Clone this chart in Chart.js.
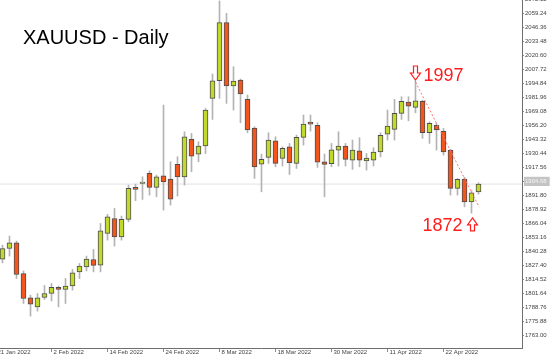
<!DOCTYPE html>
<html>
<head>
<meta charset="utf-8">
<script src="https://cdn.jsdelivr.net/npm/chart.js@4/dist/chart.umd.min.js"></script>
<style>
  html, body { margin: 0; padding: 0; background: #fff; }
  canvas { display: block; }
</style>
</head>
<body>
<canvas id="chart" width="554" height="359"></canvas>
<script>
// Daily candles, 24 Jan 2022 .. 29 Apr 2022
const open  = [1833.2,1843.0,1848.2,1820.0,1797.6,1789.3,1797.9,1801.6,1807.2,1805.3,
               1808.6,1821.5,1826.1,1832.9,1827.7,1856.8,1870.6,1853.7,1869.7,1899.2,
               1902.8,1912.0,1899.2,1909.8,1906.8,1920.3,1908.9,1943.3,1929.8,1937.2,
               1981.0,1997.2,2050.6,1992.4,1997.9,1980.1,1953.7,1920.6,1926.8,1942.0,
               1925.8,1936.5,1921.2,1945.2,1959.2,1956.2,1922.7,1920.9,1933.5,1937.2,
               1924.3,1932.8,1923.6,1924.3,1931.9,1948.2,1952.5,1967.2,1977.6,1972.8,
               1978.3,1949.4,1956.2,1950.7,1933.5,1898.2,1906.8,1885.9,1895.1];
const high  = [1846.1,1854.4,1849.8,1822.4,1800.1,1801.6,1809.0,1810.8,1808.4,1815.4,
               1823.7,1829.2,1836.0,1842.1,1866.0,1874.3,1879.8,1872.8,1901.3,1902.2,
               1908.9,1914.4,1910.5,1974.9,1922.7,1927.3,1950.3,1948.8,1941.1,1971.7,
               2003.4,2070.6,2059.2,2010.1,1998.8,1984.1,1954.9,1929.8,1949.4,1945.7,
               1936.5,1939.6,1947.3,1965.7,1965.7,1958.6,1929.8,1939.6,1950.3,1939.6,
               1942.7,1944.8,1930.4,1935.6,1949.4,1970.3,1980.1,1982.5,1982.5,1997.0,
               1979.5,1959.5,1958.0,1953.4,1934.1,1907.4,1908.4,1896.0,1903.4];
const low   = [1829.8,1836.0,1815.4,1792.4,1780.8,1785.4,1796.1,1794.8,1789.3,1792.4,
               1804.7,1815.4,1822.4,1821.5,1821.5,1850.7,1845.2,1850.7,1867.5,1887.0,
               1888.1,1892.1,1890.5,1878.3,1882.9,1891.2,1901.3,1913.5,1922.7,1930.3,
               1961.7,1981.0,1976.4,1970.3,1958.6,1949.4,1907.4,1895.1,1921.2,1918.1,
               1918.8,1911.1,1916.6,1938.1,1950.9,1917.6,1890.5,1918.1,1918.8,1918.8,
               1915.7,1918.1,1915.1,1918.8,1927.3,1942.7,1942.7,1961.7,1960.4,1967.8,
               1944.2,1939.6,1933.5,1928.9,1892.1,1892.1,1881.3,1875.5,1893.0];
const close = [1843.0,1848.2,1819.1,1797.0,1791.8,1797.6,1801.6,1807.2,1805.3,1808.4,
               1820.6,1826.8,1833.2,1827.4,1859.2,1872.1,1853.7,1869.7,1898.2,1897.3,
               1904.0,1899.2,1908.9,1904.3,1888.4,1908.9,1945.7,1927.9,1937.2,1970.3,
               1997.2,2050.6,1992.4,1997.0,1985.0,1951.9,1918.1,1924.9,1942.7,1921.2,
               1935.0,1921.8,1945.2,1957.4,1957.4,1922.4,1920.3,1933.8,1937.2,1924.9,
               1933.5,1924.3,1926.1,1931.6,1947.0,1955.6,1967.2,1978.3,1973.9,1978.8,
               1949.4,1958.0,1951.9,1931.9,1898.2,1906.5,1885.9,1894.2,1902.2];

// date labels every 8 bars, first one belongs to the bar just left of the view
const xTickLabels = ['21 Jan 2022','2 Feb 2022','14 Feb 2022','24 Feb 2022','8 Mar 2022',
                     '18 Mar 2022','30 Mar 2022','11 Apr 2022','22 Apr 2022'];
const xTickStep = 8;

// price grid of the right axis
const yTickStart = 1763.00;
const yTickStep = 12.88;
const yTickCount = 25;
const markedTick = 1904.68;

// trend line from the 18 Apr top down to the 28 Apr low
const trendX = [60, 69.1];
const trendY = [1996, 1881];
const topValue = 1997;
const bottomValue = 1872;

const UP = '#c1d82f';
const DOWN = '#f2561d';
const EDGE = '#4d4d4d';
const WICK = '#b3b3b3';
const FONT = "'Liberation Sans', Arial, sans-serif";

const xMin = 1 - 2.5 / 7;
const xMax = xMin + 522 / 7;

const bodies = open.map((o, i) => ({ x: i + 1, y: [o, close[i]] }));
const wicks = open.map((o, i) => ({ x: i + 1, y: [low[i], high[i]] }));
const bodyColors = open.map((o, i) => close[i] >= o ? UP : DOWN);
const lastClose = close[close.length - 1];

// geen extra ruimte voor half zichtbare labels aan de randen
function noEdgePadding(s) {
    s.paddingTop = 0;
    s.paddingBottom = 0;
    s.paddingLeft = 0;
    s.paddingRight = 0;
}

// Titel en de pijltjes met de koersen
const notes = {
    id: 'notes',
    afterDraw(chart) {
        const ctx = chart.ctx;
        const xs = chart.scales.x;
        const ys = chart.scales.y;
        ctx.save();
        ctx.fillStyle = '#000';
        ctx.font = '20px ' + FONT;
        ctx.textBaseline = 'alphabetic';
        ctx.fillText('XAUUSD - Daily', 23, 44);

        ctx.fillStyle = '#ff1c1c';
        ctx.strokeStyle = '#ff1c1c';
        ctx.lineWidth = 1.2;
        ctx.font = '18px ' + FONT;

        // pijl omlaag boven de top
        let cx = Math.round(xs.getPixelForValue(trendX[0])) + 0.5;
        let tip = ys.getPixelForValue(topValue) - 1;
        ctx.beginPath();
        ctx.moveTo(cx - 2, tip - 14);
        ctx.lineTo(cx + 2, tip - 14);
        ctx.lineTo(cx + 2, tip - 7);
        ctx.lineTo(cx + 5, tip - 7);
        ctx.lineTo(cx, tip);
        ctx.lineTo(cx - 5, tip - 7);
        ctx.lineTo(cx - 2, tip - 7);
        ctx.closePath();
        ctx.stroke();
        ctx.fillText(String(topValue), cx + 8, tip + 1);

        // pijl omhoog onder de bodem
        cx = Math.round(xs.getPixelForValue(68)) + 0.5;
        tip = ys.getPixelForValue(bottomValue) + 1;
        ctx.beginPath();
        ctx.moveTo(cx, tip);
        ctx.lineTo(cx + 5, tip + 7);
        ctx.lineTo(cx + 2, tip + 7);
        ctx.lineTo(cx + 2, tip + 13);
        ctx.lineTo(cx - 2, tip + 13);
        ctx.lineTo(cx - 2, tip + 7);
        ctx.lineTo(cx - 5, tip + 7);
        ctx.closePath();
        ctx.stroke();
        ctx.textAlign = 'right';
        ctx.fillText(String(bottomValue), cx - 10, tip + 13);
        ctx.restore();
    }
};

new Chart(document.getElementById('chart'), {
    type: 'bar',
    data: {
        datasets: [
            {
                type: 'line',
                data: [{ x: trendX[0], y: trendY[0] }, { x: trendX[1], y: trendY[1] }],
                borderColor: '#ff7070',
                borderWidth: 1,
                borderDash: [2, 2],
                pointRadius: 0,
                order: 0
            },
            {
                data: bodies,
                backgroundColor: bodyColors,
                borderColor: EDGE,
                borderWidth: 1,
                borderSkipped: false,
                barThickness: 5,
                grouped: false,
                order: 1
            },
            {
                data: wicks,
                backgroundColor: WICK,
                borderWidth: 0,
                barThickness: 1,
                grouped: false,
                order: 2
            },
            {
                type: 'line',
                data: [{ x: xMin, y: lastClose }, { x: xMax, y: lastClose }],
                borderColor: '#e2e2e2',
                borderWidth: 1,
                pointRadius: 0,
                order: 3
            }
        ]
    },
    options: {
        responsive: false,
        animation: false,
        devicePixelRatio: 1,
        layout: { padding: 0 },
        plugins: {
            legend: { display: false },
            tooltip: { enabled: false }
        },
        scales: {
            x: {
                type: 'linear',
                min: xMin,
                max: xMax,
                offset: false,
                afterFit: (s) => { s.height = 11; noEdgePadding(s); },
                afterBuildTicks: (s) => {
                    s.ticks = xTickLabels.map((l, k) => ({ value: k * xTickStep }));
                },
                grid: {
                    offset: false,
                    drawOnChartArea: false,
                    drawTicks: true,
                    tickLength: 4,
                    color: '#8a8a8a'
                },
                border: { display: true, color: '#6e6e6e', width: 1 },
                ticks: {
                    autoSkip: false,
                    maxRotation: 0,
                    align: 'start',
                    labelOffset: 2,
                    padding: -3,
                    color: '#444',
                    font: { family: FONT, size: 6 },
                    callback: (v) => xTickLabels[Math.round(v / xTickStep)]
                }
            },
            y: {
                position: 'right',
                min: 1751.5,
                max: 2071.47,
                afterFit: (s) => { s.width = 32; noEdgePadding(s); },
                afterBuildTicks: (s) => {
                    const t = [];
                    for (let k = 0; k < yTickCount; k++) {
                        t.push({ value: +(yTickStart + k * yTickStep).toFixed(2) });
                    }
                    s.ticks = t;
                },
                grid: {
                    drawOnChartArea: false,
                    drawTicks: true,
                    tickLength: 2,
                    color: '#8a8a8a'
                },
                border: { display: true, color: '#6e6e6e', width: 1 },
                ticks: {
                    padding: 1,
                    color: (c) => c.tick && c.tick.value === markedTick ? '#f4f4f4' : '#444',
                    font: { family: FONT, size: 6 },
                    showLabelBackdrop: (c) => c.tick && c.tick.value === markedTick,
                    backdropColor: '#c4c4c4',
                    backdropPadding: { top: 1, bottom: 1, left: 1, right: 3 },
                    callback: (v) => v.toFixed(2)
                }
            }
        }
    },
    plugins: [notes]
});
</script>
</body>
</html>
